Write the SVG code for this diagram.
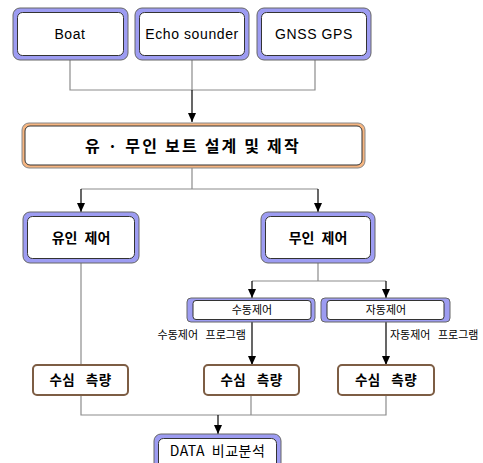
<svg xmlns="http://www.w3.org/2000/svg" width="483" height="463" viewBox="0 0 483 463">
<defs>
<marker id="ah" markerUnits="userSpaceOnUse" markerWidth="10" markerHeight="8" refX="9" refY="4" orient="auto">
<path d="M0,0 L9,4 L0,8 Z" fill="#000"/>
</marker>
<style>
.po{fill:#9d9cf2;stroke:#666;stroke-width:1}
.oo{fill:#f6b580;stroke:#888;stroke-width:1}
.in{fill:#fff;stroke:#333;stroke-width:1}
.br{fill:#fff;stroke:#7d5d44;stroke-width:2}
.en{font-family:"Liberation Sans",Arial,sans-serif;font-size:14px;fill:#000;text-anchor:middle;letter-spacing:0.6px}
.kb{font-family:"Noto Sans CJK KR",sans-serif;font-weight:bold;fill:#000;text-anchor:middle}
.kn{font-family:"Noto Sans CJK KR",sans-serif;fill:#000}
.g{fill:none;stroke:#8c8c8c;stroke-width:1.2}
.k{fill:none;stroke:#000;stroke-width:1.2;marker-end:url(#ah)}
</style>
</defs>
<g id="connectors">
<path class="g" d="M70 60 V90 H315 V60 M192 60 V90"/>
<path class="k" d="M192 90 V122"/>
<path class="g" d="M192 168 V189 M81 189 H318"/>
<path class="k" d="M81 189 V212"/>
<path class="k" d="M318 189 V212"/>
<path class="g" d="M81 263 V365"/>
<path class="g" d="M318 263 V281 M252 281 H386"/>
<path class="k" d="M252 281 V298"/>
<path class="k" d="M386 281 V298"/>
<path class="k" d="M252 322 V365"/>
<path class="k" d="M386 322 V365"/>
<path class="g" d="M81 395 V415 H386 V395 M251 395 V415"/>
<path class="k" d="M218 415 V434"/>
</g>
<g id="boat">
<rect class="po" x="13" y="8" width="115" height="52" rx="7"/>
<rect class="in" x="17.5" y="12.5" width="106" height="43" rx="5"/>
<text class="en" x="70" y="39">Boat</text>
</g>
<g id="echo">
<rect class="po" x="135" y="8" width="114" height="52" rx="7"/>
<rect class="in" x="139.5" y="12.5" width="105" height="43" rx="5"/>
<text class="en" x="192" y="39">Echo sounder</text>
</g>
<g id="gnss">
<rect class="po" x="257" y="8" width="114" height="52" rx="7"/>
<rect class="in" x="261.5" y="12.5" width="105" height="43" rx="5"/>
<text class="en" x="314" y="39">GNSS GPS</text>
</g>
<g id="design">
<rect class="oo" x="22" y="123" width="343" height="45" rx="7"/>
<rect class="in" x="25" y="126" width="337" height="39" rx="5"/>
<text class="kb" x="193" y="152" font-size="16" letter-spacing="2.2">유 · 무인 보트 설계 및 제작</text>
</g>
<g id="manned">
<rect class="po" x="23" y="212" width="116" height="51" rx="7"/>
<rect class="in" x="27.5" y="216.5" width="107" height="42" rx="5"/>
<text class="kb" x="81" y="243" font-size="14" word-spacing="4">유인 제어</text>
</g>
<g id="unmanned">
<rect class="po" x="261" y="212" width="114" height="51" rx="7"/>
<rect class="in" x="265.5" y="216.5" width="105" height="42" rx="5"/>
<text class="kb" x="318" y="243" font-size="14" word-spacing="4">무인 제어</text>
</g>
<g id="manual">
<rect class="po" x="187" y="298" width="128" height="24" rx="4" fill="#b3b6f4"/>
<rect class="in" x="193" y="300.5" width="118" height="19" rx="3"/>
<text class="kn" x="252" y="314" font-size="11" text-anchor="middle">수동제어</text>
</g>
<g id="auto">
<rect class="po" x="321" y="298" width="129" height="24" rx="4"/>
<rect class="in" x="327" y="300.5" width="117" height="19" rx="3"/>
<text class="kn" x="386" y="314" font-size="11" text-anchor="middle">자동제어</text>
</g>
<text class="kn" x="246" y="339" font-size="11" text-anchor="end" word-spacing="5">수동제어 프로그램</text>
<text class="kn" x="390" y="339" font-size="11" word-spacing="5">자동제어 프로그램</text>
<g id="survey1">
<rect class="br" x="33" y="365" width="95" height="30" rx="4"/>
<text class="kb" x="80.5" y="385" font-size="13.5" letter-spacing="0.5" word-spacing="7">수심 측량</text>
</g>
<g id="survey2">
<rect class="br" x="204" y="365" width="95" height="30" rx="4"/>
<text class="kb" x="251.5" y="385" font-size="13.5" letter-spacing="0.5" word-spacing="7">수심 측량</text>
</g>
<g id="survey3">
<rect class="br" x="338" y="365" width="96" height="30" rx="4"/>
<text class="kb" x="386" y="385" font-size="13.5" letter-spacing="0.5" word-spacing="7">수심 측량</text>
</g>
<g id="data">
<rect class="po" x="154" y="434" width="127" height="40" rx="7"/>
<rect class="in" x="158.5" y="438.5" width="118" height="32" rx="5"/>
<text class="kn" x="217.5" y="456" font-size="14" letter-spacing="0.5" word-spacing="3" text-anchor="middle">DATA 비교분석</text>
</g>
</svg>
